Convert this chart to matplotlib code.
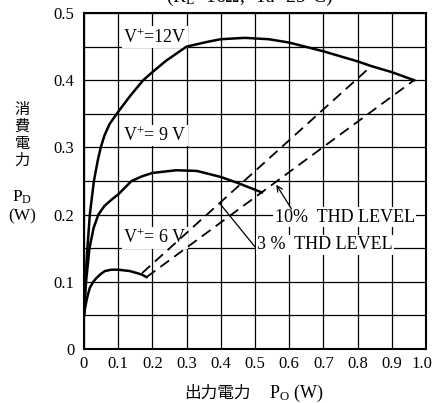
import matplotlib
matplotlib.use("Agg")
import matplotlib.pyplot as plt
import matplotlib.transforms as mtrans
import numpy as np

plt.rcParams['font.family'] = ['Liberation Serif', 'Noto Sans CJK JP']
plt.rcParams['mathtext.fontset'] = 'custom'
plt.rcParams['mathtext.rm'] = 'Liberation Serif'
plt.rcParams['mathtext.it'] = 'Liberation Serif:italic'

# P_D vs P_O curves
x12 = [0.0, 0.004, 0.01, 0.017, 0.029, 0.04, 0.049, 0.06, 0.075, 0.1, 0.134, 0.173, 0.2, 0.24,
       0.3, 0.36, 0.4, 0.47, 0.54, 0.6, 0.7, 0.8, 0.84, 0.9, 0.965]
y12 = [0.05, 0.10, 0.15, 0.20, 0.25, 0.28, 0.30, 0.318, 0.335, 0.353, 0.376, 0.40, 0.412, 0.429,
       0.45, 0.457, 0.461, 0.463, 0.461, 0.456, 0.443, 0.428, 0.421, 0.412, 0.40]

x9 = [0.0, 0.006, 0.016, 0.028, 0.042, 0.06, 0.08, 0.1, 0.139, 0.17, 0.2, 0.27, 0.33, 0.4, 0.45, 0.52]
y9 = [0.05, 0.10, 0.15, 0.18, 0.20, 0.213, 0.222, 0.23, 0.25, 0.257, 0.262, 0.266, 0.265, 0.256,
      0.247, 0.233]

x6 = [0.0, 0.005, 0.01, 0.017, 0.027, 0.037, 0.05, 0.061, 0.08, 0.1, 0.134, 0.168, 0.183]
y6 = [0.052, 0.066, 0.078, 0.091, 0.1, 0.106, 0.112, 0.116, 0.118, 0.118, 0.116, 0.111, 0.107]

thd3_x = [0.17, 0.84]
thd3_y = [0.113, 0.421]
thd10_x = [0.183, 0.965]
thd10_y = [0.107, 0.40]

xticks = [0, 0.1, 0.2, 0.3, 0.4, 0.5, 0.6, 0.7, 0.8, 0.9, 1.0]
xtick_labels = ['0', '0.1', '0.2', '0.3', '0.4', '0.5', '0.6', '0.7', '0.8', '0.9', '1.0']
yticks = [0, 0.1, 0.2, 0.3, 0.4, 0.5]
ytick_labels = ['0', '0.1', '0.2', '0.3', '0.4', '0.5']

fig = plt.figure(figsize=(4.34, 4.03), dpi=100)
ax = fig.add_axes([84 / 434, 54 / 403, 342 / 434, 336 / 403])

ax.plot(x12, y12, color='black', lw=1.8, zorder=3, solid_joinstyle='round')
ax.plot(x9, y9, color='black', lw=1.8, zorder=3, solid_joinstyle='round')
ax.plot(x6, y6, color='black', lw=1.8, zorder=3, solid_joinstyle='round')
ax.plot(thd3_x, thd3_y, color='black', lw=1.3, ls=(0, (6, 3.5)), zorder=3)
ax.plot(thd10_x, thd10_y, color='black', lw=1.3, ls=(0, (6, 3.5)), zorder=3)

ax.set_xlim(0, 1.0)
ax.set_ylim(0, 0.5)
ax.set_xticks(xticks)
ax.set_xticklabels(xtick_labels)
ax.set_yticks(yticks)
ax.set_yticklabels(ytick_labels)
ax.set_yticks(np.arange(0, 0.5, 0.05), minor=True)
ax.tick_params(which='both', length=0, labelsize=12)
ax.tick_params(axis='x', pad=5)
ax.tick_params(axis='y', pad=7)
ax.grid(True, which='major', color='black', lw=0.9)
ax.grid(True, which='minor', axis='y', color='black', lw=0.9)
ax.set_axisbelow(True)
for s in ax.spines.values():
    s.set_linewidth(1.5)

# keep "1.0" inside the picture
last = ax.get_xticklabels()[-1]
last.set_transform(last.get_transform() + mtrans.ScaledTranslation(-4 / 100, 0, fig.dpi_scale_trans))

box = dict(facecolor='white', edgecolor='none', pad=1)
ax.text(0.114, 0.464, 'V$^{+}$=12V', fontsize=13, va='center', bbox=box, zorder=2.5)
ax.text(0.114, 0.318, 'V$^{+}$= 9 V', fontsize=13, va='center', bbox=box, zorder=2.5)
ax.text(0.114, 0.165, 'V$^{+}$= 6 V', fontsize=13, va='center', bbox=box, zorder=2.5)

ax.text(0.558, 0.196, '10%  THD LEVEL', fontsize=13, va='center', bbox=box, zorder=4)
ax.annotate('', xy=(0.558, 0.248), xytext=(0.611, 0.205),
            arrowprops=dict(arrowstyle='->', color='black', lw=0.9), zorder=4)
ax.text(0.506, 0.155, '3 %  THD LEVEL', fontsize=13, va='center', bbox=box, zorder=4)
ax.plot([0.398, 0.5], [0.216, 0.152], color='black', lw=0.9, zorder=4)

# title (cut off at the top in the source)
fig.text(250 / 434, 1 - (-3) / 403, '(R$_\\mathrm{L}$=16Ω,  Ta=25°C)', fontsize=14,
         ha='center', va='center')

# y label, stacked
fig.text(22 / 434, 1 - 135 / 403, '消\n費\n電\n力', fontsize=11, ha='center',
         va='center', linespacing=1.0, family='Noto Sans CJK JP')
fig.text(22 / 434, 1 - 197 / 403, 'P$_\\mathrm{D}$', fontsize=12.5, ha='center', va='center')
fig.text(22 / 434, 1 - 216 / 403, '(W)', fontsize=12.5, ha='center', va='center')

# x label
fig.text(217 / 434, 1 - 393 / 403, '出力電力', fontsize=12, ha='center', va='center',
         family='Noto Sans CJK JP')
fig.text(296 / 434, 1 - 393 / 403, 'P$_\\mathrm{O}$ (W)', fontsize=13, ha='center', va='center')

fig.savefig('out.png', dpi=100)
